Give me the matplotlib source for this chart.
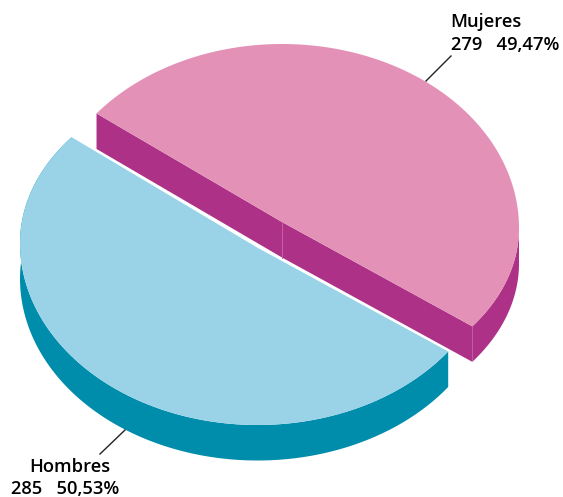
import numpy as np
import matplotlib
matplotlib.use('Agg')
import matplotlib.pyplot as plt

labels = ['Mujeres', 'Hombres']
counts = [279, 285]
percents = ['49,47%', '50,53%']

pink = '#e491b7'
magenta = '#ad3287'
seam = '#c85fa0'
blue = '#9ad3e8'
teal = '#008cab'

# pie geometry, in pixels of the image
depth = 35.5
start = 141.5
# x centre, y centre, half width, upper and lower half height, apex of the slice
muj = dict(cx=282, cy=228, a=237, bt=184, bb=165, apex=(282, 222))
hom = dict(cx=257.5, cy=243, a=237.5, bt=170, bb=182, apex=(258, 248))

sweep = np.array(counts) / sum(counts) * 360
t0_muj = start - sweep[0]
t1_hom = start + sweep[1]


def rim(s, t0, t1, n=400):
    t = np.radians(np.linspace(t0, t1, n))
    sn = np.sin(t)
    return s['cx'] + s['a'] * np.cos(t), s['cy'] - np.where(sn > 0, s['bt'], s['bb']) * sn, np.degrees(t)


fig = plt.figure(figsize=(5.63, 4.97), dpi=100)
ax = fig.add_axes([0, 0, 1, 1])
ax.set_xlim(0, 563)
ax.set_ylim(497, 0)
ax.axis('off')

# hombres: side wall then top
x, y, t = rim(hom, start, t1_hom)
ax.fill(np.r_[x, x[::-1]], np.r_[y + depth, y[::-1]], color=teal, lw=0)
ax.fill(np.r_[hom['apex'][0], x], np.r_[hom['apex'][1], y], color=blue, lw=0)

# mujeres: outer wall, cut faces, top
x, y, t = rim(muj, t0_muj, start)
apex = muj['apex']
wx, wy = x[t <= 0], y[t <= 0]
ax.fill(np.r_[wx, wx[::-1]], np.r_[wy + depth, wy[::-1]], color=magenta, lw=0)
ax.fill([apex[0], x[0], x[0], apex[0]],
        [apex[1], y[0], y[0] + depth, apex[1] + depth], color=magenta, lw=0)
ax.fill([apex[0], x[-1], x[-1], apex[0]],
        [apex[1], y[-1], y[-1] + depth, apex[1] + depth], color=magenta, lw=0)
ax.plot([apex[0], apex[0]], [apex[1], apex[1] + depth], color=seam, lw=0.7)
ax.fill(np.r_[apex[0], x], np.r_[apex[1], y], color=pink, lw=0)

# leaders
ax.plot([451, 426], [56, 81], color='#222222', lw=1)
ax.plot([125, 100], [430, 454], color='#222222', lw=1)

font = dict(family='Open Sans', fontsize=13.2, fontweight='semibold', color='black')
ax.text(450, 22, labels[0], va='center', ha='left', **font)
ax.text(451, 45, f'{counts[0]}   {percents[0]}', va='center', ha='left', **font)
ax.text(69.5, 467, labels[1], va='center', ha='center', **font)
ax.text(65, 489, f'{counts[1]}   {percents[1]}', va='center', ha='center', **font)

fig.savefig('out.png', dpi=100)
